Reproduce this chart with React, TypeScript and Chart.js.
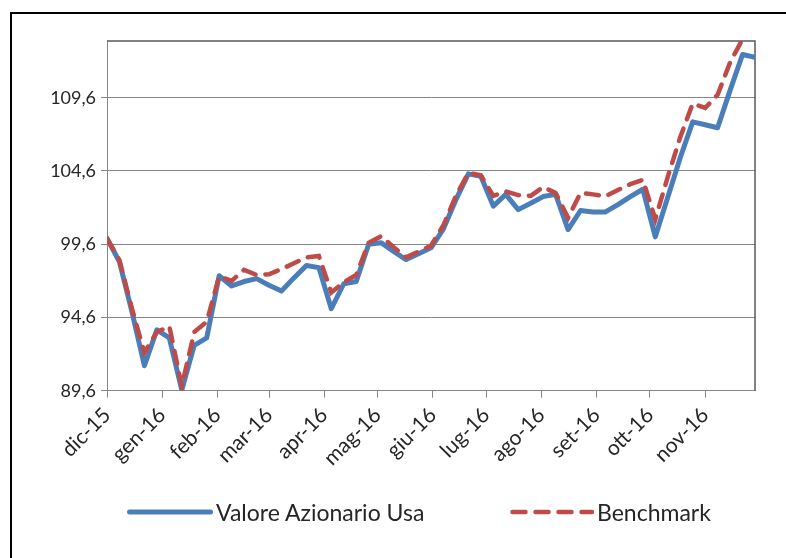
import React, { useEffect, useRef } from "react";
import { Chart, registerables } from "chart.js";

Chart.register(...registerables);

// Month tick labels (Italian) and the day offset (from the first weekly point) where each month starts
const monthLabels = ["dic-15", "gen-16", "feb-16", "mar-16", "apr-16", "mag-16", "giu-16", "lug-16", "ago-16", "set-16", "ott-16", "nov-16"];
const monthStartDays = [0, 31, 62, 91, 122, 152, 183, 213, 244, 275, 305, 336];

// Y axis tick values
const yTicks = [89.6, 94.6, 99.6, 104.6, 109.6];
const yMin = 89.6;
const yMax = 113.47;

// Weekly values (53 weeks)
const valoreAzionarioUsa = [
  100.0, 98.4, 95.0, 91.3, 93.75, 93.2, 89.65, 92.7, 93.2, 97.45,
  96.75, 97.05, 97.25, 96.8, 96.4, 97.3, 98.15, 98.0, 95.2, 96.9,
  97.05, 99.6, 99.7, 99.1, 98.55, 98.95, 99.35, 100.65, 102.64, 104.4,
  104.24, 102.2, 103.0, 101.96, 102.4, 102.85, 103.0, 100.6, 101.9, 101.8,
  101.8, 102.3, 102.85, 103.35, 100.1, 102.8, 105.5, 107.95, 107.75, 107.55,
  110.1, 112.55, 112.35,
];
const benchmark = [
  100.0, 98.5, 95.2, 92.2, 93.6, 94.0, 89.9, 93.6, 94.3, 97.4,
  97.1, 97.85, 97.5, 97.55, 97.9, 98.3, 98.7, 98.8, 96.3, 97.0,
  97.5, 99.7, 100.15, 99.4, 98.7, 99.1, 99.5, 100.9, 102.9, 104.47,
  104.3, 102.9, 103.2, 102.95, 102.9, 103.5, 103.1, 101.4, 103.1, 103.0,
  102.87, 103.3, 103.7, 104.0, 101.3, 104.2, 106.9, 109.2, 108.9, 109.8,
  112.0, 113.6, 114.3,
];

const seriesNames = ["Valore Azionario Usa", "Benchmark"];
const BLUE = "#4a7ebb";
const RED = "#be4b48";
const FONT = "Lato, 'Open Sans', sans-serif";

const framePlugin = {
  id: "frame",
  beforeDatasetsDraw(chart: any) {
    const { ctx, chartArea } = chart;
    ctx.save();
    ctx.strokeStyle = "#595959";
    ctx.lineWidth = 1.5;
    ctx.beginPath();
    ctx.moveTo(chartArea.left, chartArea.top);
    ctx.lineTo(chartArea.right, chartArea.top);
    ctx.lineTo(chartArea.right, chartArea.bottom);
    ctx.stroke();
    ctx.restore();
  },
};

export default function App() {
  const ref = useRef<HTMLCanvasElement | null>(null);

  useEffect(() => {
    if (!ref.current) return;
    const chart = new Chart(ref.current, {
      type: "line",
      data: {
        datasets: [
          {
            label: seriesNames[0],
            data: valoreAzionarioUsa.map((v, i) => ({ x: i * 7, y: v })),
            borderColor: BLUE,
            backgroundColor: BLUE,
            borderWidth: 5,
            pointRadius: 0,
            tension: 0,
            borderJoinStyle: "round",
            borderCapStyle: "round",
            order: 2,
          },
          {
            label: seriesNames[1],
            data: benchmark.map((v, i) => ({ x: i * 7, y: v })),
            borderColor: RED,
            backgroundColor: RED,
            borderWidth: 4.5,
            borderDash: [13, 10],
            borderCapStyle: "round",
            pointRadius: 0,
            tension: 0,
            order: 1,
          },
        ],
      },
      options: {
        animation: false,
        responsive: false,
        events: [],
        layout: { padding: { left: 0, top: 41, right: 31, bottom: 87.3 } },
        plugins: { legend: { display: false }, tooltip: { enabled: false } },
        scales: {
          x: {
            type: "linear",
            min: 0,
            max: 364,
            afterFit: (s: any) => {
              s.height = 80;
            },
            afterBuildTicks: (s: any) => {
              s.ticks = monthStartDays.map((d) => ({ value: d }));
            },
            ticks: {
              autoSkip: false,
              maxRotation: 45,
              minRotation: 45,
              padding: 5,
              color: "#262626",
              font: { family: FONT, size: 21 },
              callback: (_v: any, i: number) => monthLabels[i],
            },
            grid: {
              drawOnChartArea: false,
              drawTicks: true,
              tickLength: 7,
              color: "#868686",
            },
            border: { color: "#868686", width: 1 },
          },
          y: {
            min: yMin,
            max: yMax,
            afterFit: (s: any) => {
              s.width = 107;
            },
            afterBuildTicks: (s: any) => {
              s.ticks = yTicks.map((v) => ({ value: v }));
            },
            ticks: {
              padding: 5,
              color: "#262626",
              font: { family: FONT, size: 18 },
              callback: (v: any) => Number(v).toFixed(1).replace(".", ","),
            },
            grid: {
              color: "#868686",
              lineWidth: 1,
              tickLength: 6,
            },
            border: { color: "#868686", width: 1 },
          },
        },
      },
      plugins: [framePlugin],
    });
    return () => chart.destroy();
  }, []);

  return (
    <div style={{ position: "fixed", left: 0, top: 0, width: 786, height: 558, overflow: "hidden", background: "#fff" }}>
      <div style={{ position: "absolute", left: 10, top: 12, width: 800, height: 600, border: "2px solid #000" }} />
      <canvas ref={ref} width={786} height={558} style={{ position: "absolute", left: 0, top: 0, width: 786, height: 558 }} />
      <div style={{ position: "absolute", left: 127, top: 497, height: 30, display: "flex", alignItems: "center", fontFamily: FONT, fontSize: 23, color: "#262626", whiteSpace: "nowrap" }}>
        <svg width={86} height={10} style={{ marginRight: 3 }}>
          <line x1={2.5} y1={5} x2={83.5} y2={5} stroke={BLUE} strokeWidth={5} strokeLinecap="round" />
        </svg>
        <span>{seriesNames[0]}</span>
      </div>
      <div style={{ position: "absolute", left: 510, top: 497, height: 30, display: "flex", alignItems: "center", fontFamily: FONT, fontSize: 23, color: "#262626", whiteSpace: "nowrap" }}>
        <svg width={84} height={10} style={{ marginRight: 3 }}>
          <line x1={2.5} y1={5} x2={82} y2={5} stroke={RED} strokeWidth={4.5} strokeLinecap="round" strokeDasharray="13 10" />
        </svg>
        <span>{seriesNames[1]}</span>
      </div>
    </div>
  );
}
